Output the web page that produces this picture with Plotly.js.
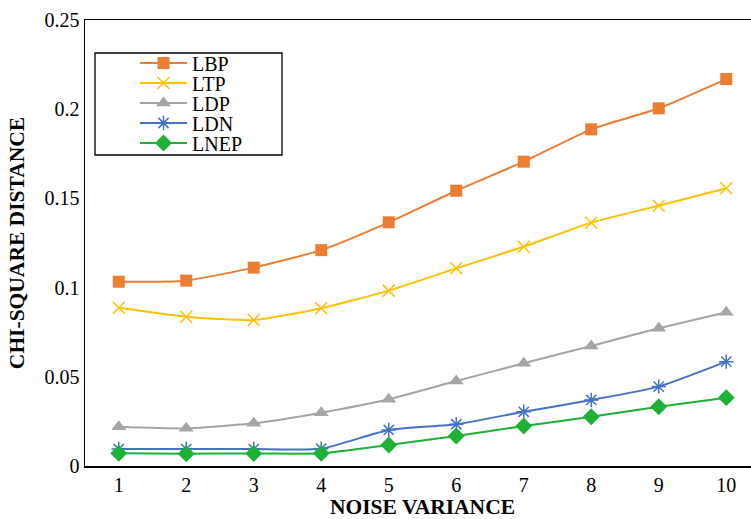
<!DOCTYPE html>
<html>
<head>
<meta charset="utf-8">
<script src="https://cdn.plot.ly/plotly-3.0.1.min.js"></script>
<style>
html, body { margin: 0; padding: 0; overflow: hidden; background: #fff; }
#chart { width: 800px; height: 519px; }
</style>
</head>
<body>
<div id="chart"></div>
<script>
const noiseVariance = [1, 2, 3, 4, 5, 6, 7, 8, 9, 10];
const xTickLabels = ["1", "2", "3", "4", "5", "6", "7", "8", "9", "10"];
const LBP  = [0.1033, 0.1039, 0.1112, 0.1210, 0.1366, 0.1543, 0.1706, 0.1887, 0.2005, 0.2169];
const LTP  = [0.0887, 0.0837, 0.0818, 0.0884, 0.0983, 0.1108, 0.1229, 0.1364, 0.1459, 0.1557];
const LDP  = [0.0220, 0.0211, 0.0239, 0.0299, 0.0374, 0.0476, 0.0576, 0.0673, 0.0772, 0.0862];
const LDN  = [0.0095, 0.0095, 0.0095, 0.0097, 0.0202, 0.0234, 0.0304, 0.0370, 0.0445, 0.0585];
const LNEP = [0.0071, 0.0069, 0.0070, 0.0071, 0.0118, 0.0168, 0.0224, 0.0276, 0.0332, 0.0383];
const seriesNames = ["LBP", "LTP", "LDP", "LDN", "LNEP"];

const FONT = '"Liberation Serif", "Times New Roman", serif';

const styles = [
  { color: '#ED7D31', symbol: 'square', size: 12, lw: 2 },
  { color: '#FFC000', symbol: 'x-thin-open', size: 12, lw: 2 },
  { color: '#A5A5A5', symbol: 'triangle-up', size: 13, lw: 2 },
  { color: '#4472C4', symbol: 'asterisk-open', size: 12, lw: 2 },
  { color: '#1DB136', symbol: 'diamond', size: 13, lw: 2 }
];
const values = [LBP, LTP, LDP, LDN, LNEP];

const traces = values.map((v, i) => ({
  x: noiseVariance,
  y: v,
  name: seriesNames[i],
  type: 'scatter',
  mode: 'lines+markers',
  line: { color: styles[i].color, width: styles[i].lw, shape: 'spline', smoothing: 0.5 },
  marker: {
    color: styles[i].color,
    symbol: styles[i].symbol,
    size: styles[i].size,
    line: { color: styles[i].color, width: (styles[i].symbol.indexOf('open') >= 0 ? 1.5 : 0) }
  }
}));

const L = 85, R = 40, T = 20, B = 53, W = 800, H = 519;
const pw = W - L - R, ph = H - T - B;
const px = (p) => (p - L) / pw;
const py = (p) => (H - B - p) / ph;

const layout = {
  width: W, height: H,
  margin: { l: L, r: R, t: T, b: B },
  paper_bgcolor: '#fff', plot_bgcolor: '#fff',
  font: { family: FONT, size: 20, color: '#000' },
  showlegend: true,
  legend: {
    x: px(133), y: py(53), xanchor: 'left', yanchor: 'top',
    bgcolor: 'rgba(0,0,0,0)', borderwidth: 0,
    itemwidth: 47,
    font: { family: FONT, size: 20, color: '#000' }
  },
  shapes: [{
    type: 'rect', xref: 'paper', yref: 'paper',
    x0: px(95), x1: px(282), y0: py(155), y1: py(53),
    line: { color: '#000', width: 1.3 }, fillcolor: 'rgba(0,0,0,0)'
  }],
  xaxis: {
    range: [0.5, 10.5],
    tickvals: noiseVariance, ticktext: xTickLabels,
    showgrid: false, zeroline: false,
    showline: true, mirror: true, linecolor: '#000', linewidth: 1.5,
    ticks: '',
    tickfont: { family: FONT, size: 20, color: '#000' },
    title: { text: '<b>NOISE VARIANCE</b>', font: { family: FONT, size: 21.5, color: '#000' }, standoff: 11 }
  },
  yaxis: {
    range: [0, 0.25], dtick: 0.05, tick0: 0,
    showgrid: false, zeroline: false,
    showline: true, mirror: true, linecolor: '#000', linewidth: 1.5,
    ticks: '',
    tickfont: { family: FONT, size: 20, color: '#000' },
    title: { text: '<b>CHI-SQUARE DISTANCE</b>', font: { family: FONT, size: 21.5, color: '#000' }, standoff: 14 }
  }
};

Plotly.newPlot('chart', traces, layout, { displayModeBar: false, staticPlot: true }).then(() => {
  // compress legend rows to match reference spacing (Excel-style tight rows)
  const items = document.querySelectorAll('.legend .traces');
  items.forEach((g, i) => {
    const tr = g.getAttribute('transform') || '';
    const m = tr.match(/translate\(\s*([-\d.]+)[ ,]+([-\d.]+)\s*\)/);
    if (!m) return;
    const tx = parseFloat(m[1]), ty = parseFloat(m[2]);
    const line = g.querySelector('.legendlines path') || g.querySelector('.legendpoints path');
    if (!line) return;
    const rc = line.getBoundingClientRect();
    const cy = rc.top + rc.height / 2;
    const target = 63 + 20 * i;
    const dx = 140 - rc.left;
    g.setAttribute('transform', 'translate(' + (tx + dx) + ',' + (ty + target - cy) + ')');
  });
});
</script>
</body>
</html>
